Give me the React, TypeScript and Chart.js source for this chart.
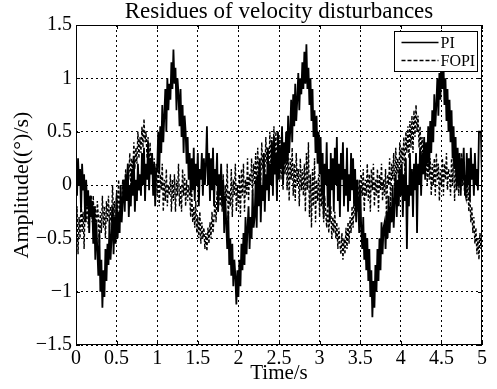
import React, { useEffect, useRef } from "react";
import { Chart, registerables } from "chart.js";

Chart.register(...registerables);

const SAMPLE_STEP = 0.0125;

const piValues = [
  0.2, -0.1, 0.25, 0.0, 0.15, -0.25, 0.2, -0.05, 0.1, -0.35, 0.05, -0.2, -0.05, -0.45, -0.1, -0.3,
  -0.15, -0.55, -0.2, -0.7, -0.35, -0.6, -0.85, -0.45, -1.0, -0.7, -1.15, -0.8, -1.05, -0.6, -0.9, -0.55,
  -0.75, -0.35, -0.7, -0.5, -0.2, -0.65, -0.3, -0.55, -0.1, -0.5, -0.25, -0.45, 0.0, -0.35, -0.15, 0.05,
  -0.25, 0.1, -0.15, 0.2, -0.3, 0.0, -0.2, 0.15, -0.1, 0.25, -0.25, 0.05, -0.15, 0.2, -0.05, 0.1,
  -0.1, 0.3, 0.0, 0.35, -0.15, 0.2, 0.05, 0.4, -0.05, 0.25, 0.1, 0.3, -0.1, 0.2, -0.2, 0.15,
  0.15, 0.5, 0.1, 0.55, 0.3, 0.75, 0.4, 0.65, 0.9, 0.5, 1.0, 0.7, 0.95, 0.8, 1.15, 0.9,
  1.27, 0.95, 1.1, 0.7, 1.0, 0.85, 0.55, 0.9, 0.45, 0.75, 0.3, 0.65, 0.5, 0.2, 0.45, 0.05,
  0.3, -0.1, 0.25, -0.05, 0.35, -0.15, 0.2, 0.0, 0.3, -0.2, 0.15, 0.05, 0.3, -0.1, 0.25, 0.0,
  0.2, 0.55, 0.0, 0.3, -0.15, 0.25, -0.05, 0.35, -0.2, 0.15, 0.0, 0.3, -0.25, 0.1, -0.1, 0.2,
  -0.2, 0.05, -0.45, -0.1, -0.35, -0.6, -0.25, -0.75, -0.5, -0.85, -0.55, -0.95, -0.7, -0.85, -1.12, -0.8,
  -1.05, -0.7, -0.95, -0.55, -0.8, -0.45, -0.75, -0.3, -0.65, -0.4, -0.2, -0.6, -0.3, -0.5, -0.05, -0.4,
  -0.3, 0.05, -0.4, 0.1, -0.2, 0.25, -0.35, 0.0, -0.15, 0.3, -0.25, 0.1, -0.05, 0.35, -0.15, 0.2,
  0.0, 0.4, -0.1, 0.45, 0.1, 0.3, -0.15, 0.5, 0.05, 0.35, 0.15, 0.55, 0.0, 0.4, 0.2, 0.5,
  0.2, 0.65, 0.3, 0.5, 0.8, 0.4, 0.85, 0.55, 0.95, 0.6, 0.8, 1.05, 0.7, 1.0, 0.85, 1.15,
  0.9, 1.25, 0.95, 1.32, 0.9, 1.1, 0.75, 1.0, 0.6, 0.9, 0.45, 0.7, 0.3, 0.65, 0.2, 0.5,
  0.1, 0.45, -0.1, 0.3, -0.3, 0.2, 0.0, 0.4, -0.2, 0.15, -0.35, 0.3, -0.05, 0.25, -0.25, 0.35,
  0.0, 0.45, -0.15, 0.2, -0.3, 0.3, 0.05, 0.4, -0.2, 0.15, -0.1, 0.35, -0.25, 0.1, -0.15, 0.3,
  -0.05, 0.25, -0.2, 0.15, -0.35, 0.05, -0.15, -0.45, 0.0, -0.4, -0.6, -0.3, -0.7, -0.45, -0.8, -0.5,
  -0.9, -0.6, -1.05, -0.8, -1.24, -0.9, -1.15, -0.75, -1.0, -0.6, -0.9, -0.5, -0.8, -0.35, -0.65, -0.4,
  -0.35, -0.6, -0.25, -0.5, -0.1, -0.45, -0.2, -0.35, 0.0, -0.4, -0.15, 0.1, -0.3, 0.05, -0.2, 0.15,
  -0.1, 0.2, -0.3, 0.1, -0.15, 0.25, -0.6, 0.0, -0.2, 0.3, -0.1, 0.15, -0.3, 0.2, -0.05, 0.3,
  -0.45, 0.2, 0.0, 0.35, -0.1, 0.3, 0.1, 0.45, 0.05, 0.4, 0.2, 0.55, 0.15, 0.6, 0.3, 0.7,
  0.4, 0.85, 0.55, 0.75, 1.0, 0.65, 1.05, 0.8, 1.25, 0.9, 1.15, 0.75, 1.0, 0.6, 0.9, 0.5,
  0.8, 0.4, 0.7, 0.25, 0.55, 0.15, 0.45, -0.05, 0.35, 0.0, 0.3, -0.1, 0.25, 0.05, 0.35, -0.05,
  -0.1, 0.3, 0.0, 0.25, -0.15, 0.35, 0.05, 0.2, -0.1, 0.3, 0.0, 0.15, -0.05, 0.5, 0.5, 0.5,
  0.05,
];

const fopiValues = [
  -0.55, -0.2, -0.65, -0.3, -0.5, -0.1, -0.45, -0.25, -0.6, -0.15, -0.35, -0.05, -0.4, -0.2, -0.3, -0.1,
  -0.35, -0.1, -0.45, -0.2, -0.5, -0.15, -0.3, -0.55, -0.25, -0.45, -0.1, -0.4, -0.2, -0.5, -0.15, -0.35,
  -0.1, -0.4, -0.2, -0.35, 0.0, -0.3, -0.15, -0.45, -0.05, -0.25, 0.05, -0.3, -0.1, -0.2, 0.05, -0.15,
  -0.05, 0.15, -0.1, 0.2, 0.05, 0.3, 0.0, 0.25, 0.1, 0.4, 0.15, 0.35, 0.2, 0.5, 0.25, 0.45,
  0.3, 0.55, 0.35, 0.62, 0.4, 0.5, 0.25, 0.45, 0.15, 0.4, 0.1, 0.3, 0.0, 0.25, -0.05, 0.2,
  -0.1, 0.15, -0.2, 0.1, -0.05, 0.2, -0.25, 0.05, -0.15, 0.15, -0.2, 0.0, -0.1, 0.1, -0.25, 0.05,
  -0.15, 0.1, -0.25, 0.05, -0.1, 0.2, -0.2, 0.0, -0.25, 0.15, -0.1, 0.1, -0.2, 0.05, -0.15, 0.0,
  -0.1, -0.3, -0.05, -0.35, -0.2, -0.4, -0.15, -0.45, -0.3, -0.5, -0.25, -0.55, -0.35, -0.5, -0.4, -0.6,
  -0.45, -0.62, -0.4, -0.55, -0.35, -0.5, -0.25, -0.45, -0.3, -0.15, -0.35, -0.05, -0.25, 0.0, -0.2, 0.05,
  -0.25, 0.1, -0.3, 0.0, -0.15, 0.2, -0.35, -0.05, -0.2, 0.15, -0.3, 0.05, -0.1, 0.2, -0.25, 0.0,
  -0.2, 0.1, -0.3, 0.15, -0.1, 0.2, -0.25, 0.05, -0.1, 0.25, -0.15, 0.1, 0.0, 0.25, -0.1, 0.2,
  0.0, 0.3, -0.05, 0.35, 0.1, 0.25, 0.0, 0.4, 0.15, 0.3, 0.05, 0.45, 0.2, 0.35, 0.1, 0.5,
  0.2, 0.45, 0.15, 0.55, 0.25, 0.5, 0.1, 0.4, 0.2, 0.45, 0.05, 0.35, -0.05, 0.3, 0.1, 0.4,
  -0.05, 0.3, -0.15, 0.25, 0.05, 0.35, -0.1, 0.2, -0.15, 0.3, 0.0, 0.15, -0.2, 0.25, -0.05, 0.15,
  -0.1, 0.2, -0.25, 0.3, -0.05, 0.4, -0.3, 0.1, -0.4, 0.15, -0.2, 0.25, -0.35, 0.05, -0.15, 0.1,
  -0.3, 0.0, -0.2, -0.05, -0.35, -0.1, -0.25, -0.4, -0.15, -0.45, -0.3, -0.2, -0.5, -0.3, -0.45, -0.25,
  -0.5, -0.35, -0.6, -0.4, -0.55, -0.65, -0.45, -0.7, -0.5, -0.65, -0.4, -0.6, -0.35, -0.55, -0.3, -0.45,
  -0.2, -0.4, -0.1, -0.3, 0.0, -0.25, -0.15, 0.05, -0.2, 0.1, -0.1, 0.15, -0.25, 0.05, -0.1, 0.2,
  -0.15, 0.1, -0.25, 0.15, -0.05, 0.2, -0.2, 0.05, -0.1, 0.15, -0.25, 0.1, -0.05, 0.2, -0.15, 0.05,
  -0.1, 0.15, -0.35, 0.1, 0.0, 0.25, -0.2, 0.2, 0.05, 0.3, -0.1, 0.35, 0.1, 0.25, 0.0, 0.4,
  0.15, 0.35, 0.2, 0.45, 0.1, 0.5, 0.3, 0.55, 0.25, 0.6, 0.35, 0.65, 0.3, 0.7, 0.45, 0.75,
  0.5, 0.65, 0.35, 0.55, 0.3, 0.45, 0.15, 0.4, 0.1, 0.35, 0.0, 0.3, 0.05, 0.25, -0.1, 0.2,
  0.0, 0.25, -0.1, 0.3, 0.05, 0.2, -0.15, 0.15, 0.0, 0.25, -0.1, 0.2, 0.05, 0.3, -0.05, 0.15,
  0.1, -0.1, 0.25, 0.0, 0.3, -0.15, 0.15, 0.05, 0.25, -0.1, 0.2, -0.05, 0.3, 0.0, 0.15, -0.1,
  0.1, -0.15, 0.05, -0.25, -0.05, -0.35, -0.2, -0.45, -0.3, -0.55, -0.4, -0.65, -0.5, -0.7, -0.45, -0.6,
  -0.5,
];

const xTicks = [0, 0.5, 1, 1.5, 2, 2.5, 3, 3.5, 4, 4.5, 5];
const yTicks = [-1.5, -1, -0.5, 0, 0.5, 1, 1.5];
const seriesNames = ["PI", "FOPI"];
const titleText = "Residues of velocity disturbances";
const xTitle = "Time/s";
const yTitle = "Amplitude((\u00b0)/s)";

const FONT = "'Liberation Serif', 'Times New Roman', serif";

const fmt = (v: number) => String(v).replace("-", "\u2212");

const toPoints = (vals: number[]) =>
  vals.map((y, i) => ({ x: Math.round(i * SAMPLE_STEP * 10000) / 10000, y }));

const framePlugin = {
  id: "frame",
  afterDatasetsDraw(chart: any) {
    const { ctx, chartArea: a, scales } = chart;
    ctx.save();
    ctx.strokeStyle = "#000";
    ctx.lineWidth = 1;
    ctx.setLineDash([]);
    ctx.strokeRect(a.left + 0.5, a.top + 0.5, a.right - a.left - 1, a.bottom - a.top - 1);
    const tl = 4;
    ctx.beginPath();
    xTicks.forEach((v) => {
      const px = Math.round(scales.x.getPixelForValue(v)) + 0.5;
      ctx.moveTo(px, a.bottom);
      ctx.lineTo(px, a.bottom - tl);
      ctx.moveTo(px, a.top);
      ctx.lineTo(px, a.top + tl);
    });
    yTicks.forEach((v) => {
      const py = Math.round(scales.y.getPixelForValue(v)) + 0.5;
      ctx.moveTo(a.left, py);
      ctx.lineTo(a.left + tl, py);
      ctx.moveTo(a.right, py);
      ctx.lineTo(a.right - tl, py);
    });
    ctx.stroke();

    // legend box
    const bw = 83;
    const bh = 40;
    const bx = Math.round(a.right - 5 - bw) + 0.5;
    const by = Math.round(a.top + 6) + 0.5;
    ctx.fillStyle = "#fff";
    ctx.fillRect(bx, by, bw, bh);
    ctx.strokeRect(bx, by, bw, bh);
    const rows = [
      { name: seriesNames[0], dash: [] as number[], y: by + 11, w: 1.6 },
      { name: seriesNames[1], dash: [4, 2], y: by + 29, w: 1.3 },
    ];
    rows.forEach((r) => {
      ctx.beginPath();
      ctx.setLineDash(r.dash);
      ctx.lineWidth = r.w;
      ctx.moveTo(bx + 7, r.y);
      ctx.lineTo(bx + 44, r.y);
      ctx.stroke();
      ctx.setLineDash([]);
      ctx.fillStyle = "#000";
      ctx.font = `16px ${FONT}`;
      ctx.textBaseline = "middle";
      ctx.textAlign = "left";
      ctx.fillText(r.name, bx + 46, r.y + 1);
    });

    // title
    ctx.font = `23px ${FONT}`;
    ctx.textAlign = "center";
    ctx.textBaseline = "middle";
    ctx.fillStyle = "#000";
    ctx.fillText(titleText, (a.left + a.right) / 2, 12);
    ctx.restore();
  },
};

export default function App() {
  const ref = useRef<HTMLCanvasElement | null>(null);

  useEffect(() => {
    if (!ref.current) return;
    const tickFont = { family: FONT, size: 20 };
    const chart = new Chart(ref.current, {
      type: "line",
      data: {
        datasets: [
          {
            label: seriesNames[0],
            data: toPoints(piValues),
            borderColor: "#000",
            borderWidth: 1.8,
            pointRadius: 0,
            tension: 0,
            fill: false,
          },
          {
            label: seriesNames[1],
            data: toPoints(fopiValues),
            borderColor: "#000",
            borderWidth: 1.4,
            borderDash: [3, 2],
            pointRadius: 0,
            tension: 0,
            fill: false,
          },
        ],
      },
      options: {
        animation: false,
        responsive: false,
        devicePixelRatio: 1,
        layout: { padding: { top: 25, right: 15, bottom: 0, left: 0 } },
        plugins: {
          legend: { display: false },
          title: { display: false },
          tooltip: { enabled: false },
        },
        scales: {
          x: {
            type: "linear",
            min: 0,
            max: 5,
            afterBuildTicks: (s: any) => {
              s.ticks = xTicks.map((v) => ({ value: v }));
            },
            afterFit: (s: any) => {
              s.height = 44;
            },
            grid: { color: "#000", lineWidth: 1, drawTicks: false },
            border: { display: false, dash: [2, 3] },
            ticks: {
              padding: 2,
              font: tickFont,
              color: "#000",
              maxRotation: 0,
              autoSkip: false,
              callback: (v: any) => fmt(v),
            },
            title: {
              display: true,
              text: xTitle,
              color: "#000",
              font: { family: FONT, size: 21, lineHeight: 1.2 },
              padding: { top: 0, bottom: 3 },
            },
          },
          y: {
            type: "linear",
            min: -1.5,
            max: 1.5,
            afterBuildTicks: (s: any) => {
              s.ticks = yTicks.map((v) => ({ value: v }));
            },
            afterFit: (s: any) => {
              s.width = 76;
            },
            grid: { color: "#000", lineWidth: 1, drawTicks: false },
            border: { display: false, dash: [2, 3] },
            ticks: {
              padding: 4,
              font: tickFont,
              color: "#000",
              autoSkip: false,
              callback: (v: any) => fmt(v),
            },
            title: {
              display: true,
              text: yTitle,
              color: "#000",
              font: { family: FONT, size: 22, lineHeight: 1.2 },
              padding: { top: 9, bottom: 0 },
            },
          },
        },
      },
      plugins: [framePlugin],
    } as any);
    return () => chart.destroy();
  }, []);

  return (
    <div style={{ position: "fixed", left: 0, top: 0, width: 497, height: 389, background: "#fff" }}>
      <canvas ref={ref} width={497} height={389} style={{ display: "block" }} />
    </div>
  );
}
